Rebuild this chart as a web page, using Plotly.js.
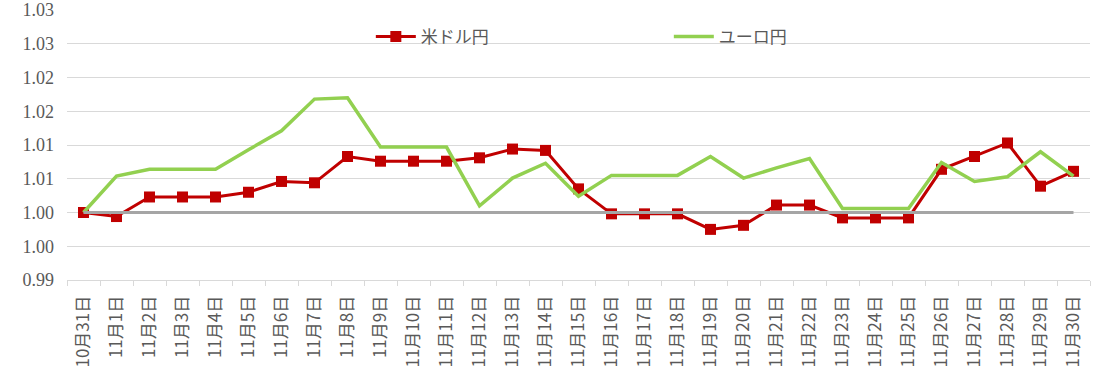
<!DOCTYPE html>
<html>
<head>
<meta charset="utf-8">
<script src="https://cdn.plot.ly/plotly-3.0.1.min.js"></script>
<style>html,body{margin:0;padding:0;background:#fff;}#chart{width:1094px;height:375px;}</style>
</head>
<body>
<div id="chart"></div>
<script>
const categories = ["10月31日","11月1日","11月2日","11月3日","11月4日","11月5日","11月6日","11月7日","11月8日","11月9日","11月10日","11月11日","11月12日","11月13日","11月14日","11月15日","11月16日","11月17日","11月18日","11月19日","11月20日","11月21日","11月22日","11月23日","11月24日","11月25日","11月26日","11月27日","11月28日","11月29日","11月30日"];
const usdJpy = [1.0000,0.9994,1.0023,1.0023,1.0023,1.0030,1.0046,1.0044,1.0083,1.0076,1.0076,1.0076,1.0081,1.0094,1.0092,1.0035,0.9998,0.9998,0.9998,0.9975,0.9981,1.0011,1.0011,0.9992,0.9992,0.9992,1.0064,1.0083,1.0103,1.0039,1.0061];
const eurJpy = [1.0000,1.0054,1.0064,1.0064,1.0064,1.0093,1.0121,1.0168,1.0170,1.0097,1.0097,1.0097,1.0010,1.0051,1.0073,1.0024,1.0055,1.0055,1.0055,1.0083,1.0051,1.0066,1.0080,1.0006,1.0006,1.0006,1.0074,1.0046,1.0053,1.0090,1.0054];
const baseline = [1,1,1,1,1,1,1,1,1,1,1,1,1,1,1,1,1,1,1,1,1,1,1,1,1,1,1,1,1,1,1];
const seriesNames = ["米ドル円","ユーロ円"];
const yTickVals = [0.990,0.995,1.000,1.005,1.010,1.015,1.020,1.025,1.030];
const yTickText = ["0.99","1.00","1.00","1.01","1.01","1.02","1.02","1.03","1.03"];

const traces = [
  {x: categories, y: usdJpy, name: seriesNames[0], type: "scatter", mode: "lines+markers",
   line: {color: "#C00000", width: 3}, marker: {symbol: "square", size: 11, color: "#C00000"}},
  {x: categories, y: eurJpy, name: seriesNames[1], type: "scatter", mode: "lines",
   line: {color: "#92D050", width: 3.5}},
  {x: categories, y: baseline, name: "基準", type: "scatter", mode: "lines", showlegend: false,
   line: {color: "#A5A5A5", width: 3}, hoverinfo: "skip"}
];

const layout = {
  width: 1094, height: 375,
  margin: {l: 67, r: 4, t: 10, b: 95},
  paper_bgcolor: "#fff", plot_bgcolor: "#fff",
  showlegend: true,
  legend: {orientation: "h", x: 0.297, xanchor: "left", y: 0.90, yanchor: "middle",
    entrywidth: 243, entrywidthmode: "pixels", itemwidth: 40,
    font: {family: "Noto Sans CJK JP", size: 17, color: "#595959"}, bgcolor: "rgba(0,0,0,0)"},
  xaxis: {type: "category", range: [-0.5, 30.5], autorange: false, tickangle: -90, tickson: "boundaries", ticks: "outside", ticklen: 5,
    tickcolor: "#D9D9D9", showgrid: false, showline: true, linecolor: "#D9D9D9", linewidth: 1,
    ticklabelstandoff: 8,
    tickfont: {family: "Noto Sans CJK JP", size: 17, color: "#595959"}, zeroline: false, fixedrange: true},
  yaxis: {range: [0.990, 1.030], autorange: false, tickvals: yTickVals, ticktext: yTickText, showgrid: true,
    gridcolor: "#D9D9D9", gridwidth: 1, zeroline: false, showline: false, ticks: "",
    tickfont: {family: "Liberation Serif, DejaVu Serif, serif", size: 18, color: "#595959"}, ticklabelstandoff: 12, fixedrange: true}
};

Plotly.newPlot("chart", traces, layout, {displayModeBar: false, staticPlot: true});
</script>
</body>
</html>
